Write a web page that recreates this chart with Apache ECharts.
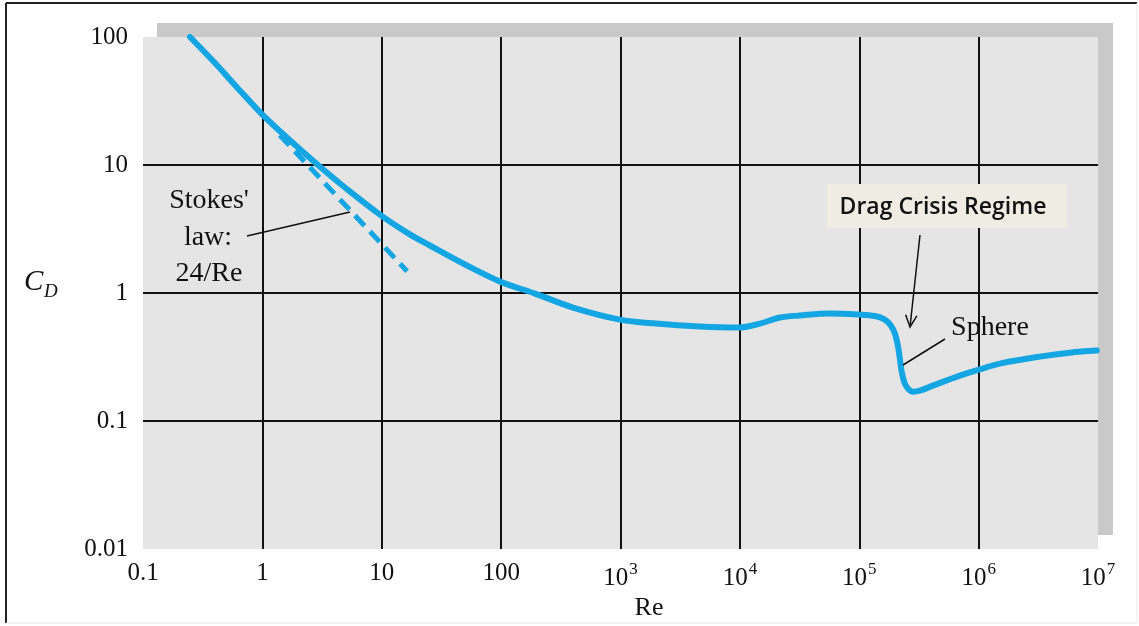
<!DOCTYPE html>
<html>
<head>
<meta charset="utf-8">
<script src="https://cdn.jsdelivr.net/npm/echarts@6/dist/echarts.min.js"></script>
<style>
html,body{margin:0;padding:0;background:#fff;}
#c{width:1139px;height:626px;}
</style>
</head>
<body>
<div id="c"></div>
<script>
// Reynolds numbers and drag coefficients (sphere curve)
const reSphere = [0.2475, 0.401, 0.601, 1.01, 1.70, 2.92, 5.01, 9.85, 17.2, 25.3, 49.8, 97.7, 192, 399, 989, 1980, 4624, 9809, 14710, 21630, 31800, 56730, 97340, 135100, 163900, 183900, 198800, 210600, 218800, 227500, 240900, 260300, 281100, 321800, 413500, 696000, 1.004e6, 1.505e6, 3.254e6, 5.80e6, 9.77e6];
const cdSphere = [100, 62.6, 41.3, 24.5, 15.6, 10.0, 6.58, 4.04, 2.87, 2.35, 1.67, 1.23, 0.99, 0.77, 0.62, 0.577, 0.547, 0.537, 0.577, 0.643, 0.667, 0.691, 0.679, 0.661, 0.62, 0.557, 0.482, 0.388, 0.307, 0.2385, 0.1957, 0.1757, 0.1694, 0.1725, 0.1888, 0.226, 0.252, 0.2805, 0.3184, 0.342, 0.3548];
// Stokes' law dashed line (end points)
const reStokes = [1.4, 16.3];
const cdStokes = [17.1, 1.48];
// tick labels
const xTickLabels = ['0.1', '1', '10', '100'];
const yTickLabels = ['0.01', '0.1', '1', '10', '100'];

const blue = '#14a5e3';
const serif = '"Liberation Serif", "DejaVu Serif", serif';

const chart = echarts.init(document.getElementById('c'), null, {renderer: 'canvas'});

function xLabel(v) {
  const e = Math.round(Math.log10(v));
  if (e <= 2) return xTickLabels[e + 1];
  return '{b|10}{s|' + e + '}';
}
function yLabel(v) {
  const e = Math.round(Math.log10(v));
  return yTickLabels[e + 2];
}

// arrow head helper
function arrowHead(x0, y0, x1, y1, len, ang) {
  const dx = x0 - x1, dy = y0 - y1;
  const L = Math.hypot(dx, dy);
  const ux = dx / L, uy = dy / L;
  const pts = [];
  [ang, -ang].forEach(a => {
    const c = Math.cos(a), s = Math.sin(a);
    pts.push([x1 + len * (ux * c - uy * s), y1 + len * (ux * s + uy * c)]);
  });
  return [pts[0], [x1, y1], pts[1]];
}

const option = {
  animation: false,
  backgroundColor: '#ffffff',
  grid: {
    left: 143, top: 37, right: 41, bottom: 77,
    show: true, backgroundColor: '#e5e5e5', borderWidth: 0,
    containLabel: false, outerBoundsMode: 'none'
  },
  xAxis: {
    type: 'log', logBase: 10, min: 0.1, max: 1e7, splitNumber: 8,
    axisLine: {show: false}, axisTick: {show: false},
    splitLine: {show: true, showMinLine: false, showMaxLine: false, lineStyle: {color: '#111', width: 2}},
    axisLabel: {
      margin: 12, color: '#111', fontFamily: serif, fontSize: 25,
      formatter: xLabel,
      rich: {
        b: {fontFamily: serif, fontSize: 25, color: '#111', lineHeight: 30, verticalAlign: 'bottom'},
        s: {fontFamily: serif, fontSize: 17, color: '#111', lineHeight: 30, verticalAlign: 'top', padding: [0, 0, 0, 1]}
      }
    }
  },
  yAxis: {
    type: 'log', logBase: 10, min: 0.01, max: 100, splitNumber: 4,
    axisLine: {show: false}, axisTick: {show: false},
    splitLine: {show: true, showMinLine: false, showMaxLine: false, lineStyle: {color: '#111', width: 2}},
    axisLabel: {margin: 15, color: '#111', fontFamily: serif, fontSize: 25, formatter: yLabel}
  },
  series: [
    {
      type: 'line', name: 'Sphere',
      data: reSphere.map((r, i) => [r, cdSphere[i]]),
      showSymbol: false, smooth: 0.35, z: 5,
      lineStyle: {color: blue, width: 6, cap: 'round', join: 'round'}
    },
    {
      type: 'line', name: "Stokes' law",
      data: reStokes.map((r, i) => [r, cdStokes[i]]),
      showSymbol: false, z: 4,
      lineStyle: {color: blue, width: 5, type: [14, 8]}
    }
  ],
  graphic: [
    // shadow frame
    {type: 'rect', shape: {x: 157, y: 23, width: 956, height: 14}, style: {fill: '#c9c9c9'}, z: 0},
    {type: 'rect', shape: {x: 1098, y: 23, width: 15, height: 512}, style: {fill: '#c9c9c9'}, z: 0},
    // outer border
    {type: 'line', shape: {x1: 6, y1: 3, x2: 1137, y2: 3}, style: {stroke: '#222', lineWidth: 2}},
    {type: 'line', shape: {x1: 6, y1: 3, x2: 6, y2: 623}, style: {stroke: '#222', lineWidth: 2}},
    {type: 'line', shape: {x1: 6, y1: 623, x2: 1137, y2: 623}, style: {stroke: '#e2e2e2', lineWidth: 1}},
    {type: 'line', shape: {x1: 1137, y1: 3, x2: 1137, y2: 623}, style: {stroke: '#e8e8e8', lineWidth: 1}},
    // axis titles
    {type: 'text', x: 24, y: 268, style: {text: 'C', font: 'italic 29px ' + serif, fill: '#111'}, z: 10},
    {type: 'text', x: 44, y: 282, style: {text: 'D', font: 'italic 19px ' + serif, fill: '#111'}, z: 10},
    {type: 'text', x: 649, y: 608, style: {text: 'Re', font: '26px ' + serif, fill: '#111', align: 'center', verticalAlign: 'middle'}, z: 10},
    // Stokes' law annotation
    {type: 'text', x: 209, y: 201, style: {text: "Stokes'", font: '28px ' + serif, fill: '#111', align: 'center', verticalAlign: 'middle'}, z: 10},
    {type: 'text', x: 208, y: 238, style: {text: 'law:', font: '28px ' + serif, fill: '#111', align: 'center', verticalAlign: 'middle'}, z: 10},
    {type: 'text', x: 209, y: 274, style: {text: '24/Re', font: '28px ' + serif, fill: '#111', align: 'center', verticalAlign: 'middle'}, z: 10},
    {type: 'line', shape: {x1: 247, y1: 236, x2: 350, y2: 212}, style: {stroke: '#111', lineWidth: 1.5}, z: 10},
    // Sphere annotation
    {type: 'text', x: 990, y: 328, style: {text: 'Sphere', font: '28px ' + serif, fill: '#111', align: 'center', verticalAlign: 'middle'}, z: 10},
    {type: 'line', shape: {x1: 945, y1: 339, x2: 903, y2: 365}, style: {stroke: '#111', lineWidth: 1.5}, z: 10},
    // Drag Crisis Regime box
    {type: 'rect', shape: {x: 827, y: 184, width: 240, height: 44}, style: {fill: '#eeece3'}, z: 10},
    {type: 'text', x: 943, y: 207, style: {text: 'Drag Crisis Regime', font: '600 23px "Open Sans", "Noto Sans", sans-serif', fill: '#111', align: 'center', verticalAlign: 'middle'}, z: 11},
    {type: 'line', shape: {x1: 920, y1: 235, x2: 910, y2: 327}, style: {stroke: '#111', lineWidth: 1.5}, z: 10},
    {type: 'polyline', shape: {points: arrowHead(920, 235, 910, 327, 13, 0.45)}, style: {stroke: '#111', lineWidth: 1.5, fill: null}, z: 10}
  ]
};
chart.setOption(option);
</script>
</body>
</html>
